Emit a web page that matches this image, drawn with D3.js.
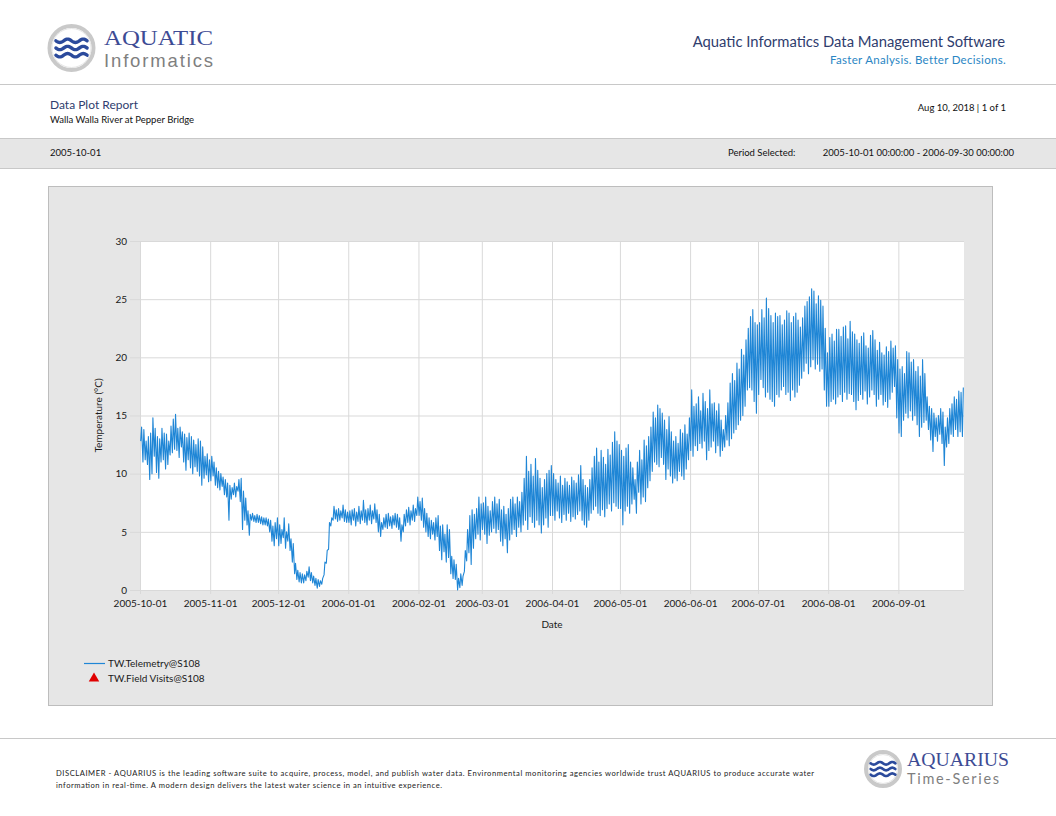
<!DOCTYPE html>
<html lang="en">
<head>
<meta charset="utf-8">
<title>Data Plot Report</title>
<script src="https://cdn.jsdelivr.net/npm/d3@7"></script>
<style>
    body { margin: 0; background: #fff; }
    text { font-family: Lato, "Open Sans", sans-serif; }
</style>
</head>
<body>
<script type="text/javascript">
    // daily water temperature, Walla Walla River at Pepper Bridge
    const startDay = "2005-10-01";
    const tempMax = [
        14.0, 13.8, 12.8, 13.2, 13.5, 14.8, 13.9, 13.2, 13.0, 13.9, 13.5, 13.4, 12.8, 14.1, 14.7, 15.1, 13.9, 14.0, 13.6, 13.4, 13.1, 13.5, 13.2, 12.9, 12.5, 13.0, 12.8, 12.3, 11.5, 11.7, 11.2, // oct
        11.5, 11.0, 10.5, 10.2, 10.0, 9.7, 9.5, 9.2, 9.0, 8.8, 9.2, 8.9, 9.5, 9.6, 8.5, 7.9, 6.8, 6.5, 6.6, 6.4, 6.5, 6.4, 6.3, 6.2, 6.2, 6.1, 6.0, 5.5, 5.8, 6.2, // nov
        5.6, 5.2, 6.2, 5.0, 5.7, 4.4, 4.0, 2.3, 1.7, 1.5, 1.4, 1.3, 1.6, 2.0, 1.5, 1.2, 1.0, 0.9, 0.8, 1.0, 2.4, 3.4, 5.8, 6.2, 7.2, 6.9, 7.0, 6.8, 7.3, 6.9, 6.7, // dec
        6.8, 6.9, 7.0, 6.7, 7.2, 6.8, 7.7, 6.9, 7.0, 7.3, 6.8, 7.4, 6.9, 6.5, 5.8, 6.2, 6.5, 6.6, 6.3, 6.4, 6.6, 6.5, 6.2, 5.6, 6.5, 6.9, 7.1, 6.8, 7.3, 7.0, 8.0, // jan
        7.6, 7.9, 7.0, 6.6, 6.2, 6.0, 5.8, 6.2, 6.4, 5.5, 5.6, 4.8, 5.6, 5.2, 2.9, 2.6, 2.2, 1.0, 1.4, 1.2, 3.4, 5.2, 6.4, 6.9, 6.5, 7.0, 8.0, 7.4, // feb
        7.5, 8.0, 7.2, 6.8, 7.6, 8.0, 7.4, 7.8, 6.9, 7.2, 6.5, 7.0, 7.8, 8.0, 7.4, 8.0, 7.6, 8.4, 9.6, 11.5, 10.2, 10.8, 9.8, 11.3, 10.3, 9.6, 8.8, 9.5, 10.0, 10.3, 10.7, // mar
        10.0, 9.5, 9.2, 9.8, 9.0, 9.6, 9.3, 9.0, 9.7, 9.4, 9.2, 9.9, 10.7, 9.5, 9.0, 8.8, 9.5, 10.5, 11.5, 12.2, 11.0, 12.0, 11.4, 10.8, 12.1, 11.6, 12.7, 13.6, 12.8, 12.5, // apr
        12.0, 11.5, 12.2, 12.5, 11.0, 10.5, 9.5, 11.0, 12.0, 11.2, 12.9, 12.4, 13.2, 14.0, 15.3, 14.8, 15.9, 15.6, 15.2, 14.6, 13.8, 14.9, 13.6, 12.8, 13.2, 12.6, 13.8, 13.5, 14.2, 13.4, 14.8, // may
        17.2, 15.8, 16.0, 16.6, 15.4, 16.9, 16.2, 15.6, 17.2, 16.0, 16.1, 15.4, 16.0, 14.6, 13.8, 15.0, 16.1, 17.8, 18.6, 18.0, 19.5, 19.0, 20.7, 20.2, 21.5, 22.5, 23.5, 24.1, 23.0, 22.8, // jun
        23.0, 24.1, 23.4, 25.1, 24.2, 23.6, 23.0, 23.8, 23.5, 23.6, 22.8, 23.2, 24.0, 23.8, 23.0, 23.5, 23.8, 23.2, 22.6, 23.4, 24.4, 24.8, 25.2, 25.9, 25.7, 24.6, 25.3, 24.9, 24.4, 22.5, 20.4, // jul
        21.7, 22.0, 21.4, 22.4, 22.4, 21.8, 22.6, 22.7, 21.6, 23.1, 22.2, 22.0, 21.5, 21.2, 21.8, 22.1, 21.0, 20.8, 21.9, 22.3, 21.5, 20.6, 21.3, 20.4, 20.2, 20.9, 20.5, 21.4, 20.8, 21.0, 19.8, // aug
        19.0, 19.2, 18.6, 20.5, 20.4, 19.6, 19.8, 18.8, 19.2, 18.4, 19.8, 18.6, 16.6, 15.8, 15.6, 15.2, 14.8, 15.0, 15.6, 15.3, 14.0, 14.8, 15.6, 16.0, 16.6, 16.4, 17.1, 17.0, 17.4 // sep
    ];
    const tempMin = [
        12.8, 11.0, 11.2, 10.8, 9.5, 10.0, 11.5, 10.1, 9.6, 11.0, 11.2, 10.4, 10.8, 11.6, 11.8, 12.1, 12.0, 11.4, 12.3, 11.0, 10.3, 11.2, 10.5, 10.0, 10.6, 10.2, 9.8, 9.0, 9.6, 9.9, 9.3, // oct
        9.4, 9.8, 9.0, 8.8, 8.6, 8.9, 8.2, 8.0, 6.0, 7.8, 8.2, 8.0, 8.5, 7.6, 5.2, 6.0, 5.6, 4.7, 6.0, 5.9, 5.8, 5.8, 5.7, 5.6, 5.6, 5.5, 5.0, 4.2, 3.8, 4.4, // nov
        3.8, 4.0, 4.5, 3.6, 4.2, 3.4, 2.4, 1.4, 0.9, 0.7, 0.6, 0.6, 0.8, 1.1, 0.8, 0.6, 0.4, 0.15, 0.3, 0.5, 1.3, 2.3, 3.5, 5.5, 6.0, 6.1, 5.9, 6.0, 6.2, 5.9, 5.8, // dec
        5.8, 5.6, 6.0, 5.5, 5.9, 5.7, 6.0, 5.8, 5.6, 6.0, 5.7, 6.1, 5.8, 5.0, 4.6, 5.2, 5.4, 5.3, 5.5, 5.3, 5.6, 5.4, 5.2, 4.2, 5.0, 5.5, 5.8, 5.6, 6.0, 5.9, 6.4, // jan
        6.4, 6.0, 5.4, 5.0, 4.6, 4.4, 4.8, 4.3, 4.6, 3.4, 2.6, 3.3, 2.4, 2.8, 1.4, 1.0, 0.9, 0.0, 0.2, 0.4, 1.6, 2.5, 3.2, 2.2, 3.6, 4.4, 4.8, 4.3, // feb
        5.2, 4.8, 4.0, 4.7, 5.0, 5.3, 4.9, 5.2, 4.2, 3.8, 4.4, 3.2, 4.3, 4.8, 5.2, 4.6, 5.4, 5.0, 5.6, 6.0, 5.2, 6.3, 5.8, 5.4, 6.0, 5.6, 4.9, 5.6, 6.2, 5.4, 6.4, // mar
        6.4, 6.0, 6.8, 6.2, 5.8, 6.5, 6.0, 6.6, 5.9, 6.3, 6.1, 6.5, 6.8, 6.0, 5.6, 5.4, 6.0, 6.6, 6.9, 7.2, 6.6, 6.4, 6.9, 6.3, 7.0, 7.4, 6.8, 7.5, 7.2, 7.0, // apr
        7.0, 5.6, 6.8, 7.2, 6.6, 7.4, 7.8, 6.6, 8.4, 7.4, 8.0, 7.6, 8.8, 9.4, 10.2, 11.0, 10.8, 10.6, 11.4, 10.8, 9.5, 10.4, 9.8, 9.2, 9.6, 9.4, 10.2, 9.8, 9.5, 10.4, 11.2, // may
        12.0, 11.5, 12.4, 12.0, 12.6, 12.2, 12.8, 11.2, 12.0, 12.3, 12.8, 11.8, 12.4, 11.5, 12.0, 12.3, 12.9, 12.4, 13.0, 13.5, 13.8, 14.2, 14.6, 15.0, 15.8, 17.2, 17.4, 17.2, 16.2, 15.2, // jun
        16.8, 18.1, 17.4, 16.6, 17.0, 16.4, 16.2, 15.8, 16.8, 16.6, 17.2, 17.5, 16.8, 17.0, 16.3, 17.2, 16.6, 17.0, 17.6, 18.2, 18.8, 19.5, 18.6, 19.2, 19.8, 19.0, 19.4, 18.8, 19.0, 17.2, 15.8, // jul
        15.8, 16.2, 16.4, 16.0, 16.6, 16.8, 16.2, 17.0, 16.4, 16.9, 16.8, 16.2, 15.5, 16.3, 16.8, 16.4, 17.1, 16.0, 16.6, 17.2, 16.8, 15.8, 16.4, 16.8, 15.9, 16.2, 15.7, 16.4, 17.0, 17.5, 14.8, // aug
        13.5, 13.2, 14.6, 15.2, 14.8, 15.4, 14.6, 15.0, 14.2, 13.2, 14.0, 14.4, 14.6, 13.8, 12.9, 11.9, 13.2, 12.8, 13.4, 12.6, 10.7, 12.3, 12.6, 13.4, 13.2, 13.8, 13.2, 13.6, 13.2 // sep
    ];
    const xDomain = ["2005-10-01", "2006-09-30"];
    const monthTicks = ["2005-10-01", "2005-11-01", "2005-12-01", "2006-01-01", "2006-02-01", "2006-03-01",
        "2006-04-01", "2006-05-01", "2006-06-01", "2006-07-01", "2006-08-01", "2006-09-01"];
    const yTicks = [0, 5, 10, 15, 20, 25, 30];
    const legendItems = ["TW.Telemetry@S108", "TW.Field Visits@S108"];

    var width = 1056, height = 816;
    var parse = d3.utcParse("%Y-%m-%d");
    var svg = d3.select("body").append("svg")
        .attr("width", width)
        .attr("height", height);

    var navy = "#2f3d6e";
    var lineBlue = "#1f86d6";

    // ---------- header ----------
    function logo(cx, cy, r) {
        var g = svg.append("g");
        g.append("circle").attr("cx", cx).attr("cy", cy).attr("r", r - 2)
            .attr("fill", "#fff").attr("stroke", "#c9c9c9").attr("stroke-width", 4);
        g.append("circle").attr("cx", cx).attr("cy", cy).attr("r", r - 4.5)
            .attr("fill", "none").attr("stroke", "#e6e6e6").attr("stroke-width", 1);
        var w = r * 1.3;
        for (let k = -1; k <= 1; k++) {
            let pts = d3.range(0, 41).map(i => [cx - w / 2 + w * i / 40,
                cy + k * r * 0.3 + Math.sin(i / 40 * Math.PI * 4) * r * 0.07]);
            g.append("path").attr("d", d3.line()(pts))
                .attr("fill", "none").attr("stroke", "#2b4a9c")
                .attr("stroke-width", r * 0.14).attr("stroke-linecap", "round");
        }
    }
    logo(71.5, 48, 24);
    svg.append("text").text("AQUATIC").attr("x", 104).attr("y", 44.5)
        .style("font-family", "'Liberation Serif', serif").attr("font-size", 22)
        .attr("fill", "#3d4b94").attr("textLength", 109).attr("lengthAdjust", "spacingAndGlyphs");
    svg.append("text").text("Informatics").attr("x", 104).attr("y", 66.5)
        .style("font-family", "'Liberation Sans', sans-serif")
        .attr("font-size", 18.5).attr("fill", "#7f7f7f")
        .attr("textLength", 109).attr("lengthAdjust", "spacing");

    svg.append("text").text("Aquatic Informatics Data Management Software")
        .attr("x", 1005).attr("y", 47).attr("text-anchor", "end")
        .attr("font-size", 14.8).attr("fill", navy);
    svg.append("text").text("Faster Analysis. Better Decisions.")
        .attr("x", 1006).attr("y", 64).attr("text-anchor", "end")
        .attr("font-size", 11.5).attr("fill", "#2a86c4").attr("letter-spacing", 0.3);

    svg.append("line").attr("x1", 0).attr("x2", width).attr("y1", 84.5).attr("y2", 84.5)
        .attr("stroke", "#c8c8c8").attr("stroke-width", 1);

    svg.append("text").text("Data Plot Report").attr("x", 50).attr("y", 109)
        .attr("font-size", 12).attr("fill", navy);
    svg.append("text").text("Walla Walla River at Pepper Bridge").attr("x", 50).attr("y", 123)
        .attr("font-size", 9.5).attr("fill", "#111");
    svg.append("text").text("Aug 10, 2018 | 1 of 1").attr("x", 1006).attr("y", 111)
        .attr("text-anchor", "end").attr("font-size", 9.5).attr("fill", "#111");

    svg.append("rect").attr("x", -1).attr("y", 138.5).attr("width", width + 2).attr("height", 30)
        .attr("fill", "#e6e6e6").attr("stroke", "#c8c8c8");
    svg.append("text").text("2005-10-01").attr("x", 50).attr("y", 156)
        .attr("font-size", 9.5).attr("fill", "#111");
    svg.append("text").text("Period Selected:").attr("x", 728).attr("y", 156)
        .attr("font-size", 9.5).attr("fill", "#111");
    svg.append("text").text("2005-10-01 00:00:00 - 2006-09-30 00:00:00").attr("x", 1014).attr("y", 156)
        .attr("text-anchor", "end").attr("font-size", 9.5).attr("fill", "#111");

    // ---------- chart panel ----------
    svg.append("rect").attr("x", 48.5).attr("y", 186.5).attr("width", 944).attr("height", 519)
        .attr("fill", "#e6e6e6").attr("stroke", "#bdbdbd");

    var plot = { left: 140, right: 964, top: 241, bottom: 590 };
    var x = d3.scaleUtc().domain(xDomain.map(parse)).range([plot.left, plot.right]);
    var y = d3.scaleLinear().domain([0, 30]).range([plot.bottom, plot.top]);

    svg.append("rect").attr("x", plot.left).attr("y", plot.top)
        .attr("width", plot.right - plot.left).attr("height", plot.bottom - plot.top)
        .attr("fill", "#fff");

    var fmt = d3.utcFormat("%Y-%m-%d");
    var xAxis = svg.append("g").attr("transform", `translate(0,${plot.top})`)
        .call(d3.axisBottom(x).tickValues(monthTicks.map(parse))
            .tickSize(plot.bottom - plot.top + 4).tickPadding(6).tickFormat(fmt));
    var yAxis = svg.append("g").attr("transform", `translate(${plot.right},0)`)
        .call(d3.axisLeft(y).tickValues(yTicks)
            .tickSize(plot.right - plot.left + 10).tickPadding(3));
    [xAxis, yAxis].forEach(a => {
        a.select(".domain").remove();
        a.selectAll(".tick line").attr("stroke", "#d9d9d9").attr("stroke-width", 1);
        a.selectAll(".tick text").attr("fill", "#1a1a1a").attr("font-size", 10)
            .style("font-family", "Lato, 'Open Sans', sans-serif");
    });

    svg.append("text").text("Date").attr("x", (plot.left + plot.right) / 2).attr("y", 628)
        .attr("text-anchor", "middle").attr("font-size", 10).attr("fill", "#1a1a1a");
    svg.append("text").text("Temperature (°C)")
        .attr("transform", `translate(102,${(plot.top + plot.bottom) / 2}) rotate(-90)`)
        .attr("text-anchor", "middle").attr("font-size", 10).attr("fill", "#1a1a1a");

    // series: daily minimum (early morning) and maximum (afternoon)
    var t0 = parse(startDay).getTime();
    var dayMs = 864e5;
    var points = [];
    tempMin.forEach((v, i) => {
        points.push([new Date(t0 + (i + 0.3) * dayMs), v]);
        points.push([new Date(t0 + (i + 0.7) * dayMs), tempMax[i]]);
    });
    svg.append("path")
        .datum(points)
        .attr("d", d3.line().x(d => x(d[0])).y(d => y(d[1])))
        .attr("fill", "none")
        .attr("stroke", lineBlue)
        .attr("stroke-width", 1.1)
        .attr("stroke-linejoin", "round");

    // ---------- legend ----------
    svg.append("line").attr("x1", 84).attr("x2", 105).attr("y1", 663.5).attr("y2", 663.5)
        .attr("stroke", lineBlue).attr("stroke-width", 1.2);
    svg.append("path").attr("d", d3.symbol(d3.symbolTriangle, 48)())
        .attr("transform", "translate(94,678.5)").attr("fill", "#e00000");
    legendItems.forEach((t, i) => {
        svg.append("text").text(t).attr("x", 108).attr("y", 667 + i * 14.5)
            .attr("font-size", 10).attr("fill", "#1a1a1a");
    });

    // ---------- footer ----------
    svg.append("line").attr("x1", 0).attr("x2", width).attr("y1", 738.5).attr("y2", 738.5)
        .attr("stroke", "#c8c8c8").attr("stroke-width", 1);
    svg.append("text")
        .text("DISCLAIMER - AQUARIUS is the leading software suite to acquire, process, model, and publish water data. Environmental monitoring agencies worldwide trust AQUARIUS to produce accurate water")
        .attr("x", 56).attr("y", 776).attr("font-size", 7.6).attr("fill", "#222")
        .attr("textLength", 758).attr("lengthAdjust", "spacing");
    svg.append("text")
        .text("information in real-time. A modern design delivers the latest water science in an intuitive experience.")
        .attr("x", 56).attr("y", 788).attr("font-size", 7.6).attr("fill", "#222")
        .attr("textLength", 386).attr("lengthAdjust", "spacing");

    logo(883, 769, 19);
    svg.append("text").text("AQUARIUS").attr("x", 907).attr("y", 766)
        .style("font-family", "'Liberation Serif', serif").attr("font-size", 18)
        .attr("fill", "#3d4b94").attr("textLength", 102).attr("lengthAdjust", "spacingAndGlyphs");
    svg.append("text").text("Time-Series").attr("x", 907).attr("y", 784)
        .attr("font-size", 14.5).attr("fill", "#7f7f7f")
        .attr("textLength", 92).attr("lengthAdjust", "spacing");
</script>
</body>
</html>
